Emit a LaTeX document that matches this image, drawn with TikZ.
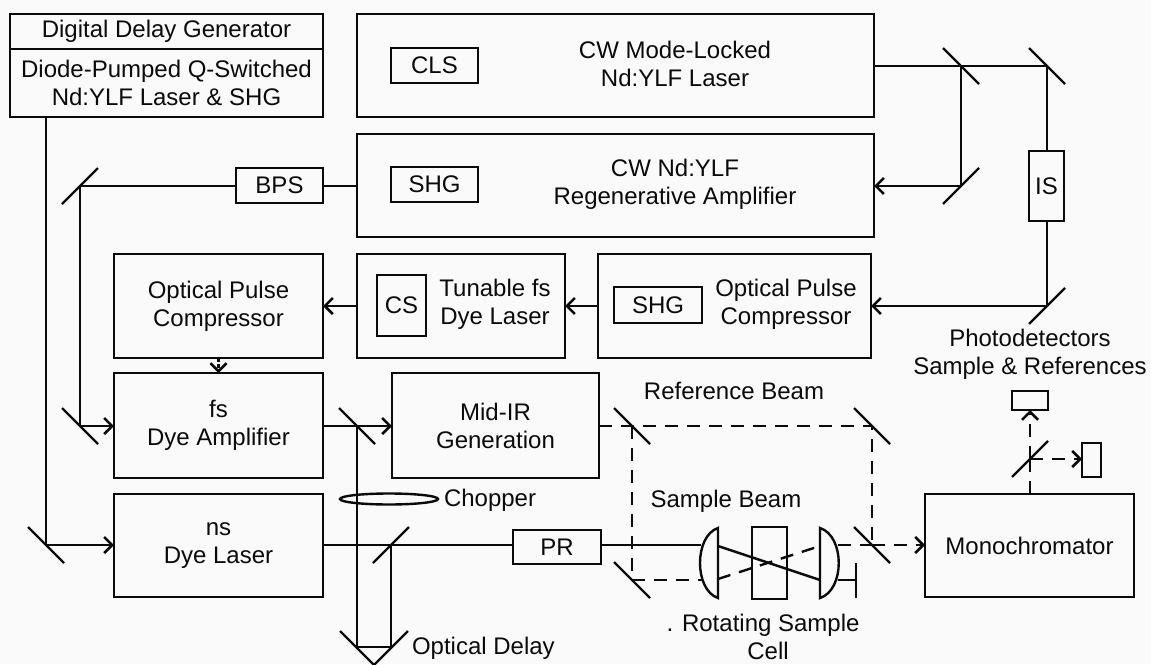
\documentclass[tikz,border=0pt]{standalone}
\usepackage{fontspec}
\setmainfont{Liberation Sans}
\usetikzlibrary{arrows.meta,shapes.geometric}
\definecolor{bgc}{HTML}{FAFAFA}
\definecolor{ink}{HTML}{0A0A0A}
\tikzset{
  beam/.style={draw=ink,line width=2.4pt},
  arr/.style={beam,-{Straight Barb[length=8pt,width=16pt,line width=2.6pt]}},
  dbeam/.style={beam,dash pattern=on 13pt off 9pt},
  darr/.style={arr,dash pattern=on 13pt off 9pt},
  boxn/.style={draw=ink,line width=2.4pt,inner sep=0pt,outer sep=0pt,align=center,text=ink,font=\fontsize{24}{28}\selectfont},
  lab/.style={inner sep=0pt,outer sep=0pt,align=center,text=ink,font=\fontsize{24}{28}\selectfont},
  mirrorline/.style={draw=ink,line width=2.4pt},
  lensline/.style={draw=ink,line width=2.4pt},
}
% \bx{name}{x1}{y1}{x2}{y2}{text}
\newcommand{\bx}[6]{\node[boxn,minimum width={(#4-#2)*1pt},minimum height={(#5-#3)*1pt}] (#1) at ({(#2+#4)/2},{(#3+#5)/2}) {#6};}
\newcommand{\mback}[3]{\coordinate (#1) at (#2,#3); \draw[mirrorline] (#1)+(-18,-18) -- +(18,18);}
\newcommand{\mfwd}[3]{\coordinate (#1) at (#2,#3); \draw[mirrorline] (#1)+(-18,18) -- +(18,-18);}
\begin{document}
\begin{tikzpicture}[x=1pt,y=-1pt]
\fill[bgc] (0,0) rectangle (1151,664);
\useasboundingbox (0,0) rectangle (1151,664);
% boxes
\bx{ddgA}{10}{14}{323}{49}{Digital Delay Generator}
\bx{ddgB}{10}{49}{323}{117}{Diode-Pumped Q-Switched\\Nd:YLF Laser \& SHG}
\bx{cwml}{357}{14}{874}{117}{}
\bx{cls}{391}{48}{478}{83}{CLS}
\node[lab] (cwmlt) at (675,64) {CW Mode-Locked\\Nd:YLF Laser};
\bx{regen}{357}{134}{874}{237}{}
\bx{shgA}{391}{167}{478}{202}{SHG}
\node[lab] (regent) at (675,184) {CW Nd:YLF\\Regenerative Amplifier};
\bx{bps}{236}{168}{323}{203}{BPS}
\bx{opcL}{114}{254}{323}{358}{Optical Pulse\\Compressor}
\bx{tun}{357}{254}{565}{358}{}
\bx{cs}{377}{275}{426}{336}{CS}
\node[lab] (tunt) at (495,304) {Tunable fs\\Dye Laser};
\bx{opcR}{598}{254}{871}{358}{}
\bx{shgB}{614}{287}{702}{323}{SHG}
\node[lab] (opct) at (786,304) {Optical Pulse\\Compressor};
\bx{fs}{114}{373}{323}{478}{fs\\Dye Amplifier}
\bx{ns}{114}{494}{323}{597}{ns\\Dye Laser}
\bx{mid}{392}{373}{599}{478}{Mid-IR\\Generation}
\bx{pr}{513}{530}{601}{564}{PR}
\bx{cell}{752}{527}{787}{599}{}
\bx{mono}{925}{494}{1134}{597}{Monochromator}
\bx{detT}{1012}{391}{1048}{410}{}
\bx{detR}{1082}{443}{1101}{477}{}
\bx{is}{1029}{151}{1064}{221}{IS}
% mirrors
\mback{mA}{961}{66}
\mback{mB}{1047}{66}
\mfwd{mC}{961}{186}
\mfwd{mD}{1047}{306}
\mfwd{mE}{80}{186}
\mback{mF}{80}{426}
\mback{mG}{357}{426}
\mback{mH}{46}{545}
\mfwd{mI}{391}{545}
\mback{mJ}{632}{426}
\mback{mK}{632}{580}
\mback{mL}{872}{426}
\mback{mM}{872}{545}
\mfwd{mN}{1030}{459}
% delay retroreflector
\coordinate (dA) at (mG |- 0,647);
\coordinate (dB) at (mI |- 0,647);
\draw[mirrorline] (340,631) -- (374,665);
\draw[mirrorline] (408,631) -- (374,665);
\draw[beam] (dA) -- (dB);
% lenses
\draw[lensline] (718,528) .. controls (694,536) and (694,590) .. (718,598) -- cycle;
\draw[lensline] (820,528) .. controls (845,536) and (845,590) .. (820,598) -- cycle;
\coordinate (lLa) at (701,545);
\coordinate (lLb) at (718,546);
\coordinate (lLc) at (718,579);
\coordinate (lLd) at (702,580);
\coordinate (lRa) at (820,580);
\coordinate (lRb) at (838,580);
\coordinate (lRc) at (820,546);
\coordinate (lRd) at (838,545);
\coordinate (stopT) at (856,563);
\coordinate (stopB) at (856,598);
\coordinate (stopM) at (856,580);
\draw[beam] (stopT) -- (stopB);
% chopper
\node[ellipse,draw=ink,line width=2.4pt,minimum width=98pt,minimum height=11pt,inner sep=0pt,outer sep=0pt] (chop) at (389,499) {};
% solid beams
\draw[arr] (ddgB.south -| mH) -- (mH) -- (ns.west |- mH);
\draw[beam] (cwml.east |- mA) -- (mA) -- (mB) -- (is.north -| mB);
\draw[beam] (is.south -| mD) -- (mD);
\draw[arr] (mA) -- (mC) -- (regen.east |- mC);
\draw[arr] (mD) -- (opcR.east |- mD);
\draw[arr] (opcR.west |- mD) -- (tun.east |- mD);
\draw[arr] (tun.west |- mD) -- (opcL.east |- mD);
\draw[beam] (regen.west |- mE) -- (bps.east |- mE);
\draw[arr] (bps.west |- mE) -- (mE) -- (mF) -- (fs.west |- mF);
\draw[arr,dash pattern=on 4pt off 2pt] (opcL.south) -- (fs.north);
\draw[arr] (fs.east |- mG) -- (mG) -- (mid.west |- mG);
\draw[beam] (mG) -- (dA);
\draw[beam] (ns.east |- mI) -- (mI) -- (pr.west |- mI);
\draw[beam] (mI) -- (dB);
\draw[beam] (pr.east |- mI) -- (lLa);
\draw[beam] (lLb) -- (lRa);
\draw[beam] (lRb) -- (stopM);
% dashed beams
\draw[dbeam] (mid.east |- mJ) -- (mJ) -- (mL) -- (mM);
\draw[dbeam] (mJ) -- (mK);
\draw[dbeam] (mK) -- (lLd);
\draw[dbeam] (lLc) -- (lRc);
\draw[dbeam] (lRd) -- (mM);
\draw[darr] (mM) -- (mono.west |- mM);
\draw[dbeam] (mono.north -| mN) -- (mN);
\draw[darr] (mN) -- (detT.south -| mN);
\draw[darr] (mN) -- (detR.west |- mN);
% labels
\node[lab,anchor=west] (choplab) at (444,500) {Chopper};
\node[lab,anchor=west] (delaylab) at (412,648) {Optical Delay};
\node[lab] (reflab) at (734,391) {Reference Beam};
\node[lab] (samlab) at (726,501) {Sample Beam};
\node[lab] (rotlab) at (763,637) {. Rotating Sample\\\hspace{10pt}Cell};
\node[lab] (pdlab) at (1030,354) {Photodetectors\\Sample \& References};
\end{tikzpicture}
\end{document}
